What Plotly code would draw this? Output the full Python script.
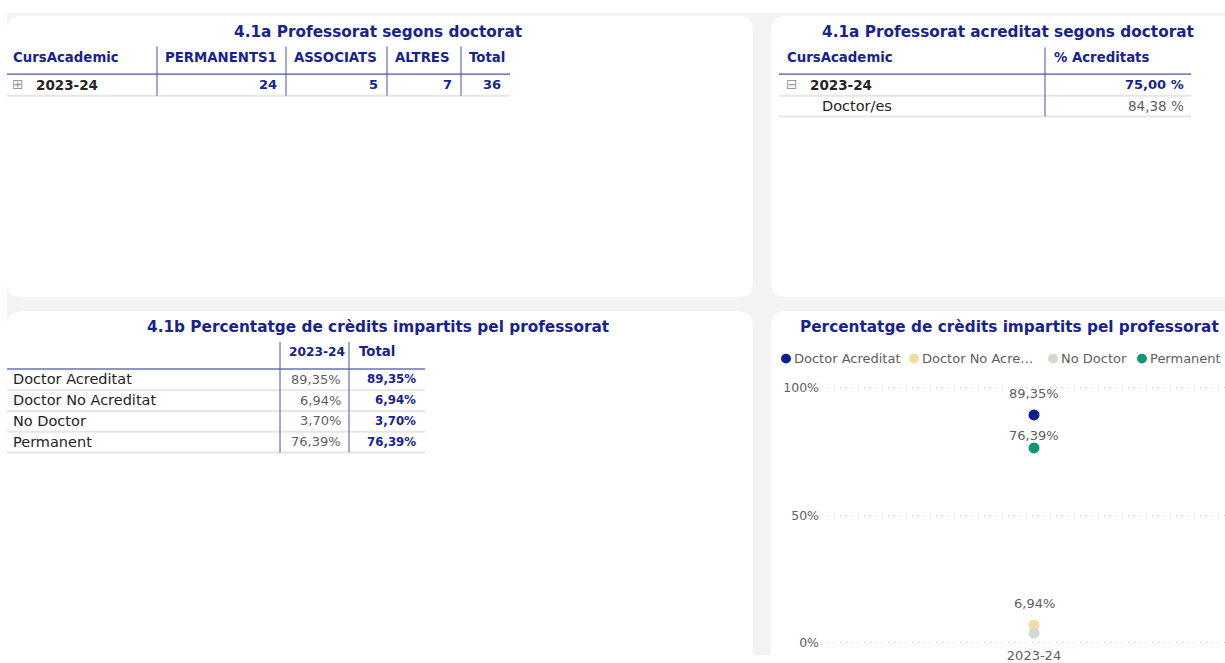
import plotly.graph_objects as go

# ---------------- data ----------------
years = ["2023-24"]
prof_cols = ["PERMANENTS1", "ASSOCIATS", "ALTRES", "Total"]
prof_vals = [24, 5, 7, 36]

acred_rows = ["2023-24", "Doctor/es"]
acred_vals = [75.00, 84.38]

credit_cats = ["Doctor Acreditat", "Doctor No Acreditat", "No Doctor", "Permanent"]
credit_vals = [89.35, 6.94, 3.70, 76.39]
credit_totals = [89.35, 6.94, 3.70, 76.39]
legend_labels = ["Doctor Acreditat", "Doctor No Acre…", "No Doctor", "Permanent"]
y_ticks = [0, 50, 100]
y_tick_labels = ["0%", "50%", "100%"]

# ---------------- style ----------------
W, H = 1225, 663
OFF = 2
FONT = "DejaVu Sans"
NAVY = "#17238E"
DARK = "#252423"
GREY = "#605E5C"
SEP = "#4A55A8"
ROWLINE = "#E6E6E6"
BG = "#F3F3F3"
series_colors = ["#0F1F8F", "#F3DD9E", "#D6D6D3", "#12967A"]
label_shift = [21, 21, None, 12]   # px above point; None = label hidden (overlap)
TITLE = 15.3
HDR = 13.3


def X(p):
    return p / W


def Y(p):
    return 1 - (p + OFF) / H


def fmt_pct(v, space=False):
    s = f"{v:.2f}".replace(".", ",")
    return s + (" %" if space else "%")


shapes = []
ann = []


def rrect(x0, y0, x1, y1, r, fill):
    pts = [
        ("M", [(x0 + r, y0)]), ("L", [(x1 - r, y0)]), ("Q", [(x1, y0), (x1, y0 + r)]),
        ("L", [(x1, y1 - r)]), ("Q", [(x1, y1), (x1 - r, y1)]), ("L", [(x0 + r, y1)]),
        ("Q", [(x0, y1), (x0, y1 - r)]), ("L", [(x0, y0 + r)]), ("Q", [(x0, y0), (x0 + r, y0)]),
    ]
    path = ""
    for cmd, ps in pts:
        path += cmd + " " + " ".join(f"{X(a):.5f},{Y(b):.5f}" for a, b in ps) + " "
    path += "Z"
    shapes.append(dict(type="path", path=path, xref="paper", yref="paper",
                       fillcolor=fill, line=dict(width=0), layer="below"))


def hline(x0, x1, y, color, w=1):
    shapes.append(dict(type="line", xref="paper", yref="paper", x0=X(x0), x1=X(x1),
                       y0=Y(y), y1=Y(y), line=dict(color=color, width=w), layer="below"))


def vline(x, y0, y1, color=SEP, w=1):
    shapes.append(dict(type="line", xref="paper", yref="paper", x0=X(x), x1=X(x),
                       y0=Y(y0), y1=Y(y1), line=dict(color=color, width=w), layer="below"))


def txt(x, y, s, size=13, color=DARK, bold=False, anchor="left"):
    ann.append(dict(xref="paper", yref="paper", x=X(x), y=Y(y), text=s, showarrow=False,
                    xanchor=anchor, yanchor="middle",
                    font=dict(family=FONT, size=size, color=color,
                              weight="bold" if bold else "normal")))


# ---------------- background panels ----------------
shapes.append(dict(type="rect", xref="paper", yref="paper", x0=X(7), x1=1, y0=0, y1=Y(11),
                   fillcolor=BG, line=dict(width=0), layer="below"))
rrect(7, 14, 753, 299, 15, "white")
rrect(771, 14, 1245, 299, 15, "white")
rrect(7, 313, 753, 690, 15, "white")
rrect(771, 313, 1245, 690, 15, "white")

# ---------------- table 1 : Professorat segons doctorat ----------------
txt(378, 30, "4.1a Professorat segons doctorat", TITLE, NAVY, True, "center")
seps1 = [157, 286, 387, 461]
right1 = 510
txt(11, 56, "CursAcademic", HDR, NAVY, True)
for i, c in enumerate(prof_cols):
    txt(seps1[i] + 6, 56, c, HDR, NAVY, True)
    nxt = seps1[i + 1] if i + 1 < len(seps1) else right1
    txt(nxt - 7, 84, str(prof_vals[i]), 13, NAVY, True, "right")
hline(7, right1, 73, SEP, 1.2)
hline(7, right1, 95, ROWLINE, 2)
for s in seps1:
    vline(s, 45, 95)
txt(10, 83, "⊞", 14, "#9A9A9A")
txt(34, 84, years[0], 13.5, DARK, True)

# ---------------- table 2 : acreditat ----------------
txt(1008, 30, "4.1a Professorat acreditat segons doctorat", TITLE, NAVY, True, "center")
sep2 = 1045
right2 = 1191
txt(785, 56, "CursAcademic", HDR, NAVY, True)
txt(sep2 + 7, 56, "% Acreditats", HDR, NAVY, True)
hline(779, right2, 73, SEP, 1.2)
hline(779, right2, 95, ROWLINE, 2)
hline(779, right2, 116, ROWLINE, 2)
vline(sep2, 46, 116)
txt(784, 83, "⊟", 14, "#9A9A9A")
txt(808, 84, acred_rows[0], 13.5, DARK, True)
txt(right2 - 5, 84, fmt_pct(acred_vals[0], True), 13, NAVY, True, "right")
txt(820, 105, acred_rows[1], 14.5, DARK, False)
txt(right2 - 5, 105, fmt_pct(acred_vals[1], True), 13.5, GREY, False, "right")

# ---------------- table 3 : crèdits ----------------
txt(378, 329, "4.1b Percentatge de crèdits impartits pel professorat", TITLE, NAVY, True, "center")
seps3 = [280, 349]
right3 = 425
txt(seps3[0] + 7, 354, years[0], 12.2, NAVY, True)
txt(seps3[1] + 8, 354, "Total", HDR, NAVY, True)
hline(7, right3, 371.5, "#8E94CC", 2)
row_y = [382, 403, 424, 445]
for i, cat in enumerate(credit_cats):
    txt(11, row_y[i], cat, 14.5, DARK, False)
    txt(seps3[1] - 6, row_y[i], fmt_pct(credit_vals[i]), 13, GREY, False, "right")
    txt(right3 - 7, row_y[i], fmt_pct(credit_totals[i]), 11.8, NAVY, True, "right")
    hline(7, right3, row_y[i] + 11, ROWLINE, 2)
for s in seps3:
    vline(s, 344, 456)

# ---------------- chart : percentatge de crèdits ----------------
txt(1009, 329, "Percentatge de crèdits impartits pel professorat", TITLE, NAVY, True, "center")
leg_x = [786, 914, 1053, 1142]
for i, lab in enumerate(legend_labels):
    shapes.append(dict(type="circle", xref="paper", yref="paper",
                       x0=X(leg_x[i] - 5), x1=X(leg_x[i] + 5), y0=Y(366), y1=Y(356),
                       fillcolor=series_colors[i], line=dict(width=0)))
    txt(leg_x[i] + 6, 361, lab, 13, GREY, False)

fig = go.Figure()
for i, cat in enumerate(credit_cats):
    fig.add_trace(go.Scatter(x=years, y=[credit_vals[i]], mode="markers", name=cat,
                             marker=dict(size=11, color=series_colors[i]),
                             cliponaxis=False, showlegend=False,
                             hovertemplate=f"{cat}: %{{y:.2f}}%<extra></extra>"))
    if label_shift[i] is not None:
        ann.append(dict(xref="x", yref="y", x=years[0], y=credit_vals[i],
                        text=fmt_pct(credit_vals[i]), showarrow=False,
                        yshift=label_shift[i], yanchor="middle",
                        font=dict(family=FONT, size=13, color=GREY)))

top_px, bot_px = 370, 652
zero_px, px_per_pct = 648.5, 2.58
fig.update_layout(
    width=W, height=H,
    margin=dict(l=0, r=0, t=0, b=0),
    paper_bgcolor="white", plot_bgcolor="rgba(0,0,0,0)",
    shapes=shapes, annotations=ann,
    font=dict(family=FONT),
    xaxis=dict(domain=[828 / W, 1], type="category", range=[-0.5, 0.4636],
               showgrid=False, zeroline=False, showline=False, ticks="",
               tickfont=dict(family=FONT, size=13, color=GREY)),
    yaxis=dict(domain=[Y(bot_px), Y(top_px)],
               range=[(zero_px - bot_px) / px_per_pct, (zero_px - top_px) / px_per_pct],
               tickmode="array", tickvals=y_ticks, ticktext=y_tick_labels, showgrid=True,
               gridcolor="#C8C8C8", griddash="1px,5px", gridwidth=1,
               zeroline=False, showline=False, ticks="", ticklabelstandoff=8,
               tickfont=dict(family=FONT, size=12.5, color=GREY)),
)

fig.write_html("out.html", config={"displayModeBar": False},
               post_script="document.body.style.margin='0';document.body.style.overflow='hidden';")
